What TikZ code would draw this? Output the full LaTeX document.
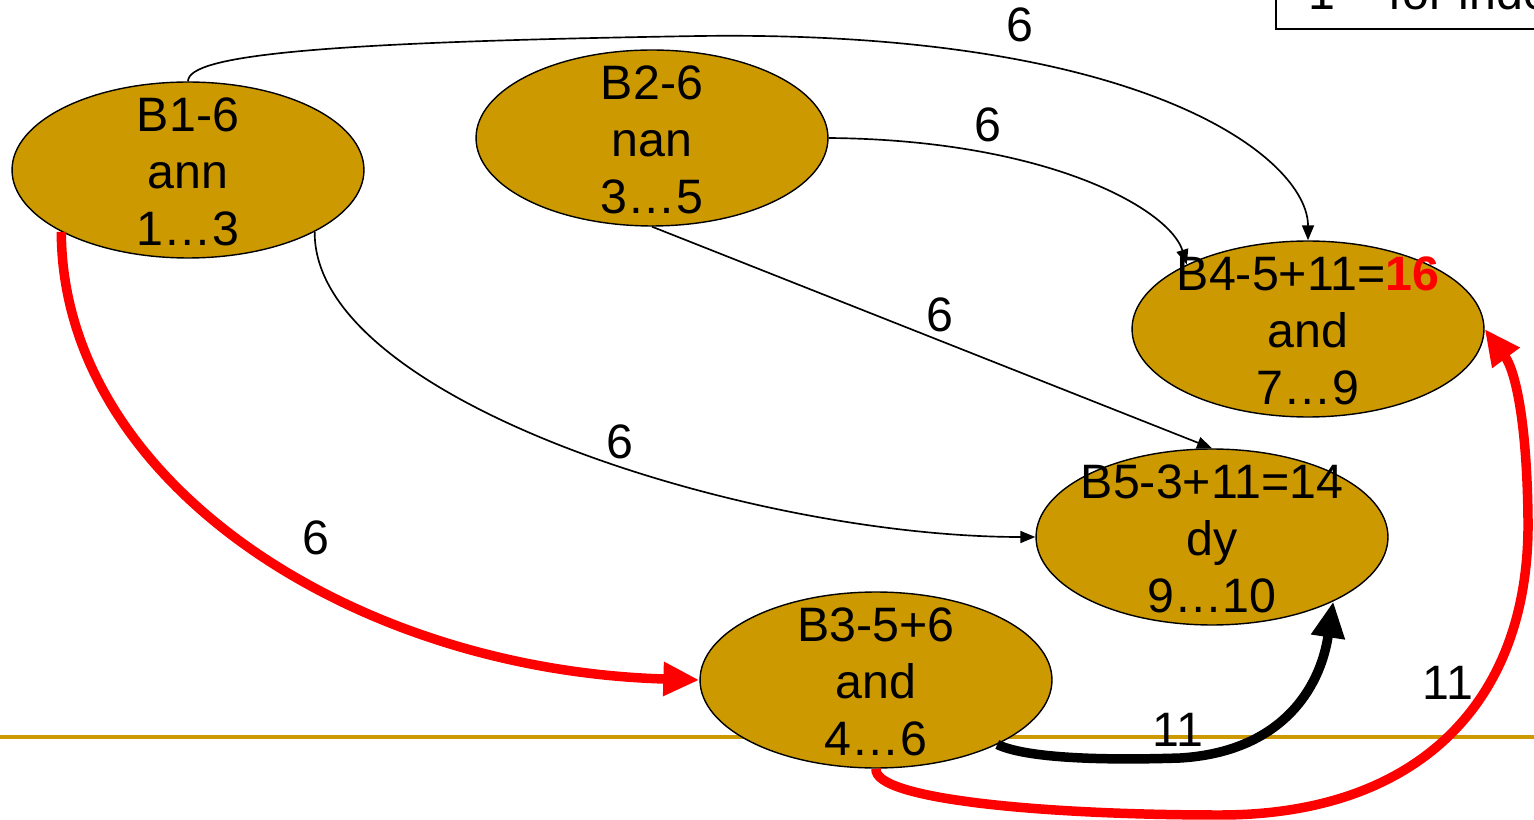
\documentclass[tikz,border=0pt]{standalone}
\usepackage{fontspec}
\setmainfont{Liberation Sans}
\usetikzlibrary{arrows.meta,shapes.geometric}
\definecolor{gold}{HTML}{CC9900}
\begin{document}
\begin{tikzpicture}[x=0.02cm,y=-0.02cm,
  bubble/.style={ellipse, draw=black, line width=0.8pt, fill=gold, minimum width=7.04cm, minimum height=3.52cm, inner sep=0pt},
  txt/.style={align=center, inner sep=0pt, font=\fontsize{27.5}{32.4}\selectfont},
  lbl/.style={inner sep=0pt, font=\fontsize{27.5}{32.4}\selectfont},
  thinarrow/.style={draw=black, line width=0.95pt, -{Triangle[length=0.3cm,width=0.24cm]}},
  heavyarrow/.style={line width=5.4pt, -{Triangle[length=0.72cm,width=0.64cm]}},
]
\clip (0,0) rectangle (1534,820);
\draw[gold, line width=2.4pt] (0,737) -- (1534,737);

\node[bubble] (b1) at (188,170) {};
\node[bubble] (b2) at (652,138) {};
\node[bubble] (b4) at (1308,329) {};
\node[bubble] (b5) at (1212,537) {};
\node[bubble] (b3) at (876,680) {};

\draw[thinarrow] (b1.north) .. controls (188,55) and (320,42) .. (700,36) .. controls (1150,30) and (1308,160) .. (b4.north);
\draw[thinarrow] (b2.east) .. controls (1050,140) and (1170,210) .. (b4.152);
\draw[thinarrow] (b2.south) -- (b5.north);
\draw[thinarrow] (b1.334) .. controls (313,400) and (750,537) .. (b5.west);
\draw[heavyarrow, red] (b1.206) .. controls (62,480) and (350,670) .. (b3.west);
\draw[heavyarrow, black] (b3.332) .. controls (1030,760) and (1120,760) .. (1180,758) .. controls (1280,752) and (1320,690) .. (b5.332);
\draw[heavyarrow, red] (b3.south) .. controls (873,800) and (1050,815) .. (1220,815) .. controls (1420,815) and (1530,700) .. (1528,520) .. controls (1527,420) and (1515,370) .. (b4.east);

\node[txt] (t1) at (188,172) {B1-6\\ann\\1…3};
\node[txt] (t2) at (652,140) {B2-6\\nan\\3…5};
\node[txt] (t4) at (1308,331) {B4-5+11=\textcolor{red}{\textbf{16}}\\and\\7…9};
\node[txt] (t5) at (1212,539) {B5-3+11=14\\dy\\9…10};
\node[txt] (t3) at (876,682) {B3-5+6\\and\\4…6};

\node[lbl] (l1) at (1020,25) {6};
\node[lbl] (l2) at (988,125) {6};
\node[lbl] (l3) at (940,315) {6};
\node[lbl] (l4) at (620,442) {6};
\node[lbl] (l5) at (316,538) {6};
\node[lbl] (l6) at (1178,730) {11};
\node[lbl] (l7) at (1448,683) {11};

\draw[line width=0.9pt] (1276,-5) -- (1276,29) -- (1540,29);
\node[lbl, anchor=base west] (key) at (1308,10) {1 – for index};
\end{tikzpicture}
\end{document}
